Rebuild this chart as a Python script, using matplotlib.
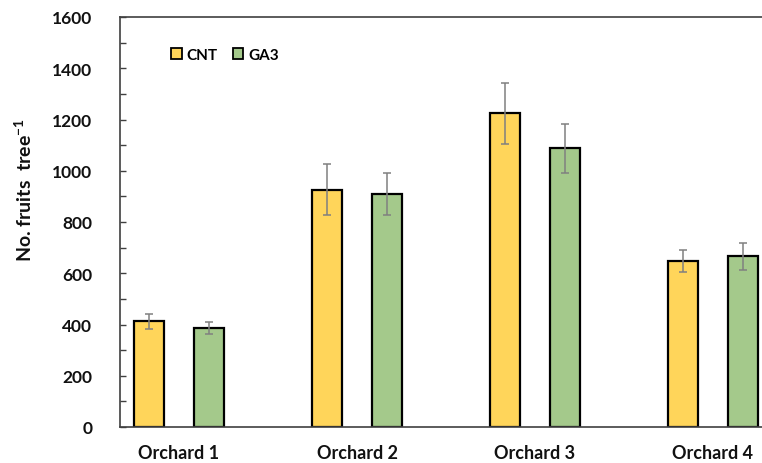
import matplotlib
matplotlib.use("Agg")
import matplotlib.pyplot as plt
import numpy as np
from matplotlib.ticker import MultipleLocator

plt.rcParams['font.family'] = ['Lato', 'DejaVu Sans']
plt.rcParams['mathtext.fontset'] = 'custom'
plt.rcParams['mathtext.rm'] = 'Lato'
plt.rcParams['mathtext.bf'] = 'Lato:bold'

categories = ["Orchard 1", "Orchard 2", "Orchard 3", "Orchard 4"]
series_names = ["CNT", "GA3"]
cnt_values = [412, 926, 1224, 647]
cnt_err = [28, 100, 118, 43]
ga3_values = [386, 909, 1087, 667]
ga3_err = [22, 82, 95, 53]
y_ticks = [0, 200, 400, 600, 800, 1000, 1200, 1400, 1600]

W, H = 762, 464
fig = plt.figure(figsize=(W / 100, H / 100), dpi=100)
ax = fig.add_axes([120 / W, 1 - 428 / H, 1 - 120 / W, (428 - 18) / H])

x = np.arange(len(categories))
bw = 0.169
yellow = '#FFD55A'
green = '#A4C98B'
ekw = dict(ecolor='#808080', elinewidth=1.1, capsize=3, capthick=1.1)
b1 = ax.bar(x - bw, cnt_values, bw, yerr=cnt_err, color=yellow, edgecolor='black',
            linewidth=1.6, error_kw=ekw, label=series_names[0], zorder=2)
b2 = ax.bar(x + bw, ga3_values, bw, yerr=ga3_err, color=green, edgecolor='black',
            linewidth=1.6, error_kw=ekw, label=series_names[1], zorder=2)

ax.set_xlim(-0.3315, 3.2753)
ax.set_ylim(0, 1600)
ax.set_yticks(y_ticks)
ax.set_yticklabels([str(v) for v in y_ticks])
ax.yaxis.set_minor_locator(MultipleLocator(100))
ax.tick_params(axis='y', which='both', direction='in', length=4, width=1,
               color='#404040', pad=20, labelsize=12.5)
ax.set_xticks(x)
ax.set_xticklabels(categories)
ax.tick_params(axis='x', length=0, pad=12, labelsize=13)
for lab in ax.get_xticklabels() + ax.get_yticklabels():
    lab.set_fontweight('bold')
    lab.set_color('#111111')

for s in ['left', 'bottom', 'top']:
    ax.spines[s].set_color('#404040')
    ax.spines[s].set_linewidth(1.2)
ax.spines['right'].set_visible(False)

fig.text(24 / W, 1 - 190 / H, r"No. fruits  tree$^{\mathbf{-1}}$", rotation=90,
         ha='center', va='center', fontsize=14, fontweight='bold', color='#111111')

leg = ax.legend(handles=[b1, b2], loc='center left',
                bbox_to_anchor=(171 / W, 1 - 56 / H), bbox_transform=fig.transFigure,
                ncol=2, frameon=False, fontsize=11, handlelength=0.7, handleheight=0.7,
                handletextpad=0.3, columnspacing=1.0, borderpad=0, borderaxespad=0)
for t in leg.get_texts():
    t.set_fontweight('bold')
for h in leg.legend_handles:
    h.set_linewidth(1.3)

fig.savefig("out.png", dpi=100)
